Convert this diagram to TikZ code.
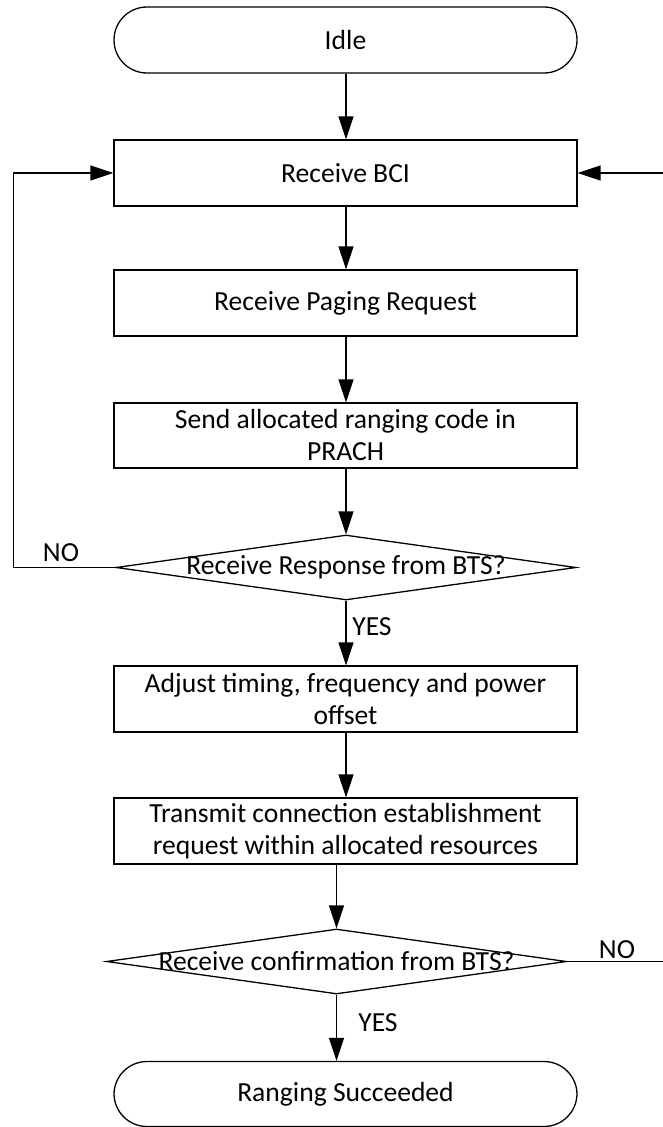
\documentclass[tikz,border=0pt]{standalone}
\usepackage{fontspec}
\setmainfont{Carlito}
\usetikzlibrary{arrows.meta,shapes.geometric}

\tikzset{
  base/.style={draw=black, line width=1.3pt, inner sep=0pt, align=center,
    font=\fontsize{27.6}{32}\selectfont},
  process/.style={base, rectangle, minimum width=463pt, minimum height=66pt},
  terminal/.style={base, rectangle, rounded corners=33pt, minimum width=463pt, minimum height=66pt},
  decision/.style={draw=black, line width=1.3pt, diamond, inner sep=0pt,
    minimum width=460pt, minimum height=65pt},
  dtext/.style={inner sep=0pt, font=\fontsize{27.6}{32}\selectfont},
  lbl/.style={inner sep=0pt, font=\fontsize{27.6}{32}\selectfont},
  arr/.style={line width=1.5pt, -{Triangle[length=23pt, width=15pt]}},
}

\begin{document}
\begin{tikzpicture}[x=1pt, y=-1pt]
\useasboundingbox (0,0) rectangle (663,1127);
\clip (0,0) rectangle (663,1127);

% main flow
\node[terminal] (idle)   at (345.5,40)  {Idle};
\node[process]  (bci)    at (345.5,173) {Receive BCI};
\node[process]  (paging) at (345.5,303) {Receive Paging Request};
\node[process, minimum height=65pt] (send) at (345.5,435.5) {Send allocated ranging code in\\PRACH};
\node[decision] (d1)     at (346,567.5) {};
\node[dtext]    (d1t)    at (346,567.5) {Receive Response from BTS?};
\node[process]  (adjust) at (345.5,699) {Adjust timing, frequency and power\\offset};
\node[process]  (tx)     at (345.5,831) {Transmit connection establishment\\request within allocated resources};
\node[decision] (d2)     at (336.5,961.5) {};
\node[dtext]    (d2t)    at (336.5,961.5) {Receive confirmation from BTS?};
\node[terminal, minimum height=65pt] (done) at (345.5,1094) {Ranging Succeeded};

% connectors
\draw[arr] (idle.south -| 346,0) -- (bci.north -| 346,0);
\draw[arr] (bci.south -| 346,0) -- (paging.north -| 346,0);
\draw[arr] (paging.south -| 346,0) -- (send.north -| 346,0);
\draw[arr] (send.south -| 346,0) -- (d1.north);
\draw[arr] (d1.south) -- (adjust.north -| d1.south);
\draw[arr] (adjust.south -| 346,0) -- (tx.north -| 346,0);
\draw[arr] (tx.south -| d2.north) -- (d2.north);
\draw[arr] (d2.south) -- (done.north -| d2.south);

% loops back to Receive BCI
\draw[arr] (d1.west) -- ++(-102,0) |- (bci.west);
\draw[arr] (d2.east) -- ++(120,0) |- (bci.east);

% branch labels
\node[lbl] (no1)  at (61,553)   {NO};
\node[lbl] (yes1) at (372,627)  {YES};
\node[lbl] (no2)  at (617,950)  {NO};
\node[lbl] (yes2) at (378,1023) {YES};
\end{tikzpicture}
\end{document}
